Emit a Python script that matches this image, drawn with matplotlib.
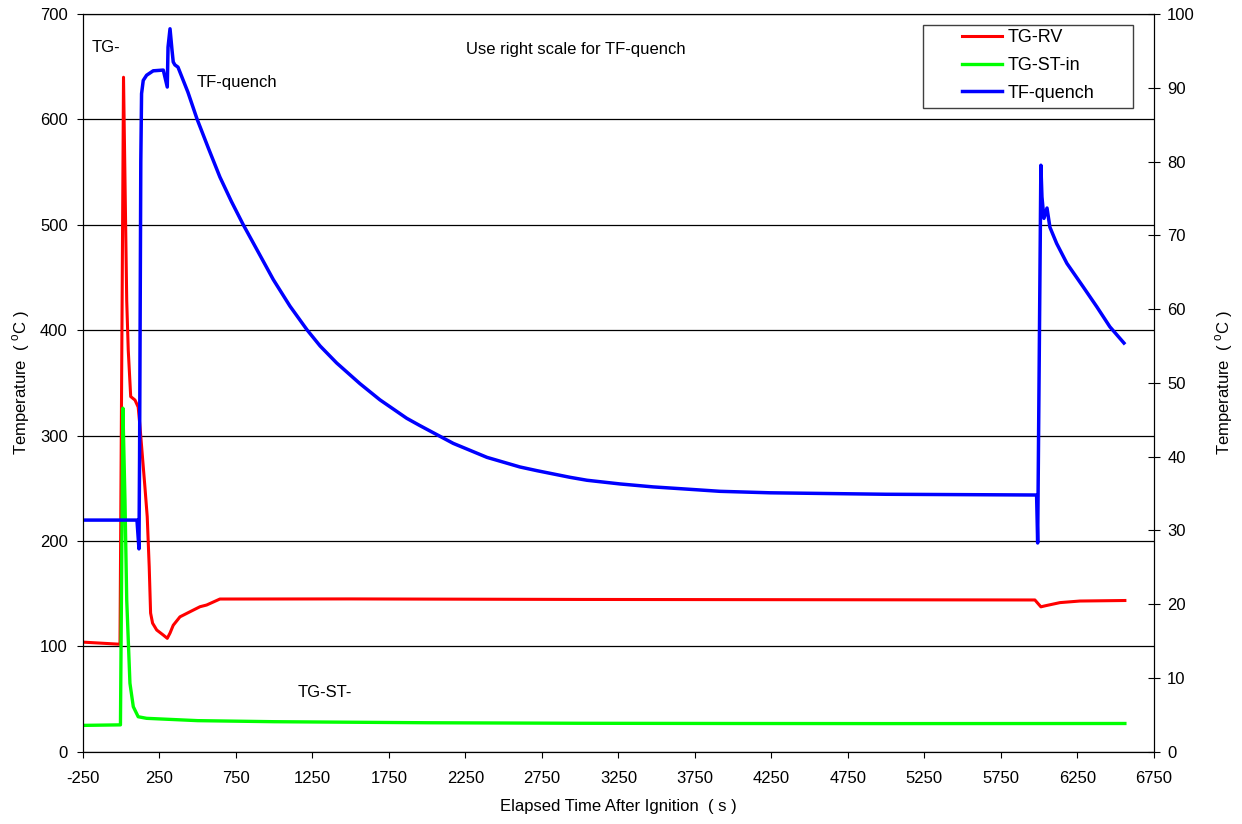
import matplotlib.pyplot as plt
from matplotlib.patches import Rectangle

plt.rcParams['font.family'] = ['Liberation Sans', 'DejaVu Sans']
plt.rcParams['mathtext.fontset'] = 'custom'
plt.rcParams['mathtext.rm'] = 'Liberation Sans'
plt.rcParams['axes.unicode_minus'] = False

# TG-RV (left scale)
t_rv = [-250, -8, 15, 36, 46, 62, 90, 111, 123, 155, 170, 183, 192, 205, 232, 275, 301,
        319, 340, 384, 471, 515, 558, 645, 1500, 3000, 5972, 6011, 6040, 6136, 6266, 6560]
temp_rv = [104, 102, 640, 428, 381, 337, 333.7, 327, 308, 251, 223, 175.5, 131.6, 122, 115.5, 110.7, 107.6,
           112.6, 120, 128, 134.4, 137.6, 139.2, 144.9, 145, 144.5, 144, 137.5, 138.5, 141.5, 143, 143.5]

# TG-ST-in (left scale)
t_st = [-250, -5, 11, 24.5, 36, 57, 79, 111, 166, 500, 1000, 2000, 3000, 4000, 5000, 6560]
temp_st = [25, 25.5, 326, 239, 144, 65, 42.7, 33.2, 31.7, 29.5, 28.5, 27.5, 27, 26.8, 26.7, 26.8]

# TF-quench (right scale)
t_tf = [-250, 103, 116, 120, 128, 133, 144, 166, 209, 275, 301, 306, 319, 332, 340, 351, 371, 436,
        495, 570, 645, 720, 796, 907, 994, 1103, 1214, 1300, 1408, 1560, 1691, 1866, 1953, 2170,
        2391, 2606, 2717, 2933, 3044, 3260, 3476, 3696, 3913, 4240, 5000, 5983,
        5990, 6011, 6018, 6031, 6051, 6070, 6114, 6181, 6288, 6377, 6462, 6554]
temp_tf = [31.4, 31.4, 27.5, 40, 80, 89.2, 91, 91.7, 92.3, 92.4, 90.1, 95.5, 98.0, 95.1, 93.5, 93.1, 92.8, 89.4,
           85.8, 81.8, 77.9, 74.6, 71.5, 67.3, 64.0, 60.4, 57.2, 55.0, 52.7, 49.9, 47.7, 45.2, 44.2, 41.8,
           39.9, 38.6, 38.1, 37.2, 36.8, 36.3, 35.9, 35.6, 35.3, 35.1, 34.9, 34.8,
           28.3, 79.5, 75.2, 72.3, 73.7, 71.1, 68.9, 66.2, 63.0, 60.3, 57.6, 55.4]

x_ticks = list(range(-250, 6751, 500))

fig = plt.figure(figsize=(12.42, 8.24), dpi=100)
ax = fig.add_axes([0.0668, 0.0877, 0.8623, 0.8953])
ax2 = ax.twinx()

l1, = ax.plot(t_rv, temp_rv, color='#ff0000', lw=2.2, label='TG-RV')
l2, = ax.plot(t_st, temp_st, color='#00ff00', lw=2.4, label='TG-ST-in')
l3, = ax2.plot(t_tf, temp_tf, color='#0000ff', lw=2.5, label='TF-quench')

ax.set_xlim(-250, 6750)
ax.set_ylim(0, 700)
ax2.set_ylim(0, 100)
ax.set_xticks(x_ticks)
ax.set_yticks(range(0, 701, 100))
ax2.set_yticks(range(0, 101, 10))
ax.grid(axis='y', color='black', lw=0.9)
ax.set_axisbelow(True)

ax.tick_params(axis='x', direction='out', length=4, labelsize=12, pad=10)
ax.tick_params(axis='y', direction='out', length=4, labelsize=12, pad=7)
ax2.tick_params(axis='y', direction='inout', length=9, labelsize=12, pad=5)

ax.set_xlabel('Elapsed Time After Ignition  ( s )', fontsize=12, labelpad=9)
ax.set_ylabel(r'Temperature  ( $^{\mathrm{o}}$C )', fontsize=12, labelpad=5.5)
ax2.set_ylabel(r'Temperature  ( $^{\mathrm{o}}$C )', fontsize=12, labelpad=13.5)

ax.text(-191, 668, 'TG-', fontsize=12, va='center')
ax.text(495, 635, 'TF-quench', fontsize=12, va='center')
ax.text(1155, 56, 'TG-ST-', fontsize=12, va='center')
ax.text(2253, 666, 'Use right scale for TF-quench', fontsize=12, va='center')

# legend box drawn separately so it can be wider than the entries
box = Rectangle((923 / 1242, 1 - 108 / 824), 210 / 1242, 83 / 824, transform=fig.transFigure,
                facecolor='white', edgecolor='#404040', lw=1.0, zorder=4)
ax2.add_artist(box)
leg = ax2.legend(handles=[l1, l2, l3], loc='upper left', fontsize=13, frameon=False,
                 bbox_to_anchor=(962 / 1242, 1 - 29.5 / 824), bbox_transform=fig.transFigure,
                 handlelength=2.21, handletextpad=0.3, labelspacing=0.59, borderpad=0,
                 borderaxespad=0)

plt.savefig('out.png', dpi=100)
